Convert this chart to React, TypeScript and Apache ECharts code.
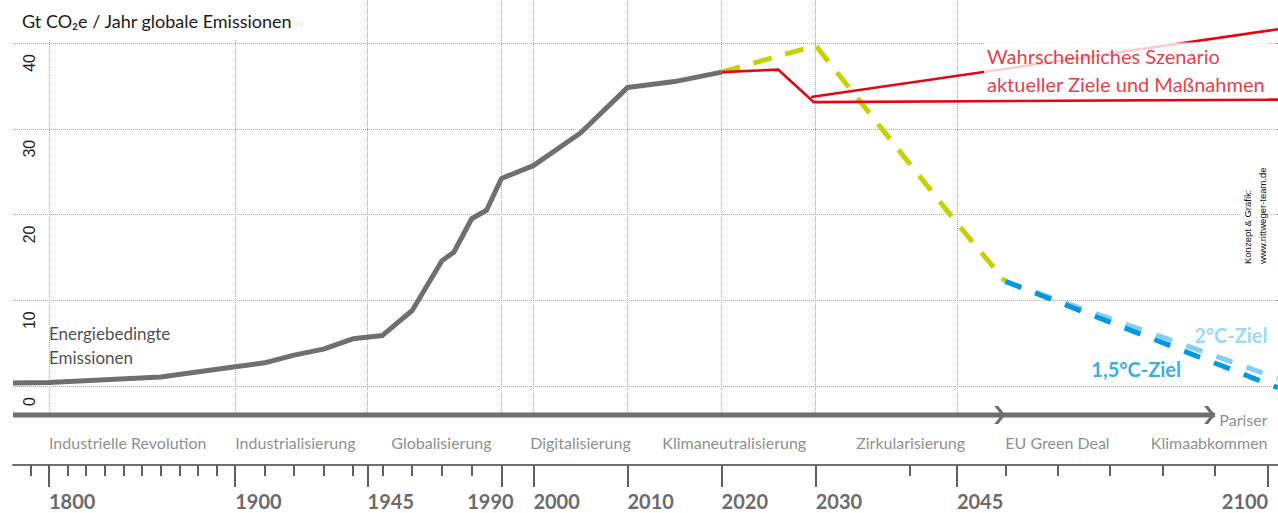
import { useEffect, useRef } from 'react';
import * as echarts from 'echarts';

// ---- timeline scale (piecewise: break years and relative width of each segment) ----
const TIMELINE_BREAK_YEARS = [1780, 1800, 1900, 1945, 1990, 2000, 2045, 2050, 2100, 2102];
const TIMELINE_SEGMENT_WEIGHTS = [36, 186.5, 132.5, 134, 32, 424, 48.5, 262.5, 10.5];

const GRID_YEARS = [1800, 1900, 1945, 1990, 2000, 2010, 2020, 2030, 2045];
const MAJOR_TICK_YEARS = [1800, 1900, 1945, 1990, 2000, 2010, 2020, 2030, 2045, 2100];
const MINOR_TICK_YEARS = [1790, 1810, 1820, 1830, 1840, 1850, 1860, 1870, 1880, 1890, 1910, 1920, 1930, 1940, 1950, 1960, 1970, 1980, 2040, 2050, 2060, 2070, 2080, 2090];
const LEFT_YEAR_LABELS = [1800, 1900, 1945, 2000, 2010, 2020, 2030, 2045];
const SHIFTED_YEAR_LABELS = [1990, 2100];

// ---- emissions (Gt CO2e / year) ----
const HIST_YEARS = [1780, 1800, 1860, 1900, 1910, 1920, 1930, 1940, 1950, 1960, 1970, 1974, 1980, 1985, 1990, 2000, 2005, 2010, 2015, 2020];
const HIST_VALUES = [0.35, 0.4, 1.05, 2.25, 2.7, 3.6, 4.3, 5.5, 5.9, 8.8, 14.6, 15.6, 19.5, 20.5, 24.2, 25.7, 29.5, 34.8, 35.5, 36.6];
const RED_YEARS = [2020, 2026, 2029.8, 2102];
const RED_VALUES = [36.6, 36.9, 33.1, 33.4];
const RED_UPPER_YEARS = [2029.5, 2102];
const RED_UPPER_VALUES = [33.7, 41.6];
const YELLOW_YEARS = [2020, 2030, 2045, 2050];
const YELLOW_VALUES = [36.6, 39.7, 19.0, 12.2];
const TWO_C_YEARS = [2050, 2102];
const TWO_C_VALUES = [12.2, 0.9];
const ONE5_YEARS = [2050, 2102];
const ONE5_VALUES = [12.2, -0.2];

const ARROW_YEARS = [1780, 2050, 2090];

const PERIODS = [
  { text: 'Industrielle Revolution', year: 1800, align: 'left', row: 0 },
  { text: 'Industrialisierung', year: 1900, align: 'left', row: 0 },
  { text: 'Globalisierung', year: 1953, align: 'left', row: 0 },
  { text: 'Digitalisierung', year: 1999, align: 'left', row: 0 },
  { text: 'Klimaneutralisierung', year: 2013.7, align: 'left', row: 0 },
  { text: 'Zirkularisierung', year: 2034.3, align: 'left', row: 0 },
  { text: 'EU Green Deal', year: 2050, align: 'left', row: 0 },
  { text: 'Klimaabkommen', year: 2100, align: 'right', row: 0 },
  { text: 'Pariser', year: 2100, align: 'right', row: 1 },
];

const PLOT_NOTES = [
  { text: 'Energiebedingte\nEmissionen', year: 1800, value: 7.5, align: 'left', vAlign: 'top', kind: 'black' },
  { text: 'Wahrscheinliches Szenario\naktueller Ziele und Maßnahmen', year: 2047.8, value: 36.8, align: 'left', vAlign: 'middle', kind: 'red' },
  { text: '2°C-Ziel', year: 2100, value: 5.95, align: 'right', vAlign: 'middle', kind: 'twoC' },
  { text: '1,5°C-Ziel', year: 2083.5, value: 2.0, align: 'right', vAlign: 'middle', kind: 'one5' },
];

// ---- styles ----
const FONT = 'Lato, "Open Sans", sans-serif';
const C_GRAY = '#6f6f6f';
const C_RED = '#e30613';
const C_YELLOW = '#c8d100';
const C_LIGHT = '#80d0f5';
const C_DARK = '#0099dd';
const C_GRID = '#a9a9a9';
const ROW_OFFSETS = [27, 4];
const YEAR_LABEL_PAD: Record<number, number> = { 1990: 22, 2100: 45 };
const NOTE_STYLES: Record<string, any> = {
  black: { color: '#1a1a1a', fontSize: 17, lineHeight: 24 },
  red: { color: C_RED, fontSize: 20, lineHeight: 28, backgroundColor: '#fff', padding: [0, 3] },
  twoC: { color: C_LIGHT, fontSize: 20, fontWeight: 'bold' },
  one5: { color: C_DARK, fontSize: 20, fontWeight: 'bold' },
};

const BREAK_POS = TIMELINE_BREAK_YEARS.map((_, i) =>
  TIMELINE_SEGMENT_WEIGHTS.slice(0, i).reduce((a, b) => a + b, 0)
);
const X_MAX = BREAK_POS[BREAK_POS.length - 1];

function P(year: number): number {
  const n = TIMELINE_BREAK_YEARS.length;
  for (let i = 0; i < n - 1; i++) {
    const y0 = TIMELINE_BREAK_YEARS[i];
    const y1 = TIMELINE_BREAK_YEARS[i + 1];
    if (year <= y1 || i === n - 2) {
      return BREAK_POS[i] + ((year - y0) / (y1 - y0)) * (BREAK_POS[i + 1] - BREAK_POS[i]);
    }
  }
  return 0;
}
function yearOf(pos: number): number {
  const n = BREAK_POS.length;
  for (let i = 0; i < n - 1; i++) {
    if (pos <= BREAK_POS[i + 1] || i === n - 2) {
      const t = (pos - BREAK_POS[i]) / (BREAK_POS[i + 1] - BREAK_POS[i]);
      return TIMELINE_BREAK_YEARS[i] + t * (TIMELINE_BREAK_YEARS[i + 1] - TIMELINE_BREAK_YEARS[i]);
    }
  }
  return 0;
}

const CHEVRON = 'path://M0,0 L4,0 L11,9 L4,18 L0,18 L7,9 Z';

function lineSeries(years: number[], values: number[], color: string, width: number, dash: any, z: number) {
  return {
    type: 'line',
    xAxisIndex: 0,
    yAxisIndex: 0,
    data: years.map((y, i) => [P(y), values[i]]),
    symbol: 'none',
    clip: false,
    silent: true,
    z,
    lineStyle: { color, width, type: dash, cap: 'butt', join: 'round' },
  };
}

export default function App() {
  const ref = useRef<HTMLDivElement>(null);
  useEffect(() => {
    if (!ref.current) return;
    const chart = echarts.init(ref.current, undefined, { renderer: 'svg' });
    const dotted = { color: C_GRID, width: 1, type: [1, 1] };
    const grids = [
      { left: 13, right: 0, top: 43, bottom: 127 },
      { left: 13, right: 0, top: 0, bottom: 98 },
      { left: 13, right: 0, top: 464, height: 1 },
      { left: 13, right: 0, top: 464, height: 1 },
    ].map((g) => ({ ...g, containLabel: false, outerBoundsMode: 'none' }));

    const option: any = {
      animation: false,
      title: {
        text: 'Gt CO₂e / Jahr globale Emissionen',
        left: 16,
        top: 0,
        padding: [12, 6, 9, 6],
        backgroundColor: '#fff',
        textStyle: { fontFamily: FONT, fontSize: 18, fontWeight: 'normal', color: '#1a1a1a' },
      },
      grid: grids,
      xAxis: [
        { type: 'value', gridIndex: 0, min: 0, max: X_MAX, show: false },
        {
          type: 'value', gridIndex: 1, min: 0, max: X_MAX,
          axisLine: { show: false },
          axisTick: { show: false, customValues: GRID_YEARS.map(P) },
          axisLabel: { show: false },
          splitLine: { show: true, lineStyle: dotted },
        },
        {
          type: 'value', gridIndex: 2, min: 0, max: X_MAX, position: 'bottom',
          axisLine: { show: true, lineStyle: { color: C_GRAY, width: 2 } },
          axisTick: { show: true, customValues: MAJOR_TICK_YEARS.map(P), length: 22, lineStyle: { color: '#606060', width: 2 } },
          axisLabel: {
            show: true,
            customValues: LEFT_YEAR_LABELS.map(P),
            formatter: (v: number) => String(Math.round(yearOf(v))),
            align: 'left',
            margin: 26,
            fontFamily: FONT,
            fontWeight: 'bold',
            fontSize: 20,
            color: '#6b6b6b',
          },
          splitLine: { show: false },
        },
        {
          type: 'value', gridIndex: 3, min: 0, max: X_MAX, position: 'bottom',
          axisLine: { show: false },
          axisTick: { show: true, customValues: MINOR_TICK_YEARS.map(P), length: 11, lineStyle: { color: '#606060', width: 2 } },
          axisLabel: {
            show: true,
            customValues: SHIFTED_YEAR_LABELS.map(P),
            formatter: (v: number) => {
              const y = Math.round(yearOf(v));
              return `{y${y}|${y}}`;
            },
            align: 'center',
            margin: 26,
            rich: Object.fromEntries(
              SHIFTED_YEAR_LABELS.map((y) => [
                'y' + y,
                { fontFamily: FONT, fontWeight: 'bold', fontSize: 20, color: '#6b6b6b', padding: [0, YEAR_LABEL_PAD[y], 0, 0] },
              ])
            ),
          },
          splitLine: { show: false },
        },
      ],
      yAxis: [
        {
          type: 'value', gridIndex: 0, min: 0, max: 40, interval: 10,
          axisLine: { show: false },
          axisTick: { show: false },
          splitLine: { show: true, lineStyle: dotted },
          axisLabel: {
            inside: true,
            rotate: 90,
            margin: 8,
            align: 'right',
            verticalAlign: 'top',
            padding: [0, 11, 0, 0],
            fontSize: 16,
            color: '#1e1e1e',
            fontFamily: '"Liberation Sans", Arial, sans-serif',
          },
        },
        { type: 'value', gridIndex: 1, min: 0, max: 1, show: false },
        { type: 'value', gridIndex: 2, min: 0, max: 1, show: false },
        { type: 'value', gridIndex: 3, min: 0, max: 1, show: false },
      ],
      series: [
        lineSeries(HIST_YEARS, HIST_VALUES, C_GRAY, 5, 'solid', 4),
        lineSeries(YELLOW_YEARS, YELLOW_VALUES, C_YELLOW, 5, [19, 14], 3),
        lineSeries(RED_UPPER_YEARS, RED_UPPER_VALUES, C_RED, 2.6, 'solid', 5),
        lineSeries(RED_YEARS, RED_VALUES, C_RED, 2.6, 'solid', 5),
        lineSeries(TWO_C_YEARS, TWO_C_VALUES, C_LIGHT, 5, [17, 15], 3),
        lineSeries(ONE5_YEARS, ONE5_VALUES, C_DARK, 5, [17, 15], 3),
        {
          type: 'line',
          xAxisIndex: 1,
          yAxisIndex: 1,
          clip: false,
          silent: true,
          z: 6,
          showSymbol: true,
          showAllSymbol: true,
          lineStyle: { color: C_GRAY, width: 5, cap: 'butt' },
          itemStyle: { color: C_GRAY },
          data: ARROW_YEARS.map((y, i) => ({
            value: [P(y), 0],
            symbol: i === 0 ? 'none' : CHEVRON,
            symbolSize: [11, 18],
            symbolOffset: [-5.5, 0],
          })),
        },
        {
          type: 'scatter',
          xAxisIndex: 1,
          yAxisIndex: 1,
          clip: false,
          silent: true,
          z: 8,
          symbolSize: 1,
          itemStyle: { color: 'transparent' },
          data: PERIODS.map((p) => ({
            value: [P(p.year), 0],
            label: {
              show: true,
              position: 'inside',
              formatter: p.text,
              align: p.align,
              verticalAlign: 'middle',
              offset: [0, ROW_OFFSETS[p.row]],
              fontFamily: FONT,
              fontSize: 16,
              color: '#6f6f6f',
            },
          })),
        },
        {
          type: 'scatter',
          xAxisIndex: 0,
          yAxisIndex: 0,
          clip: false,
          silent: true,
          z: 10,
          symbolSize: 1,
          itemStyle: { color: 'transparent' },
          data: PLOT_NOTES.map((n) => ({
            value: [P(n.year), n.value],
            label: {
              show: true,
              position: 'inside',
              formatter: n.text,
              align: n.align,
              verticalAlign: n.vAlign,
              fontFamily: FONT,
              ...NOTE_STYLES[n.kind],
            },
          })),
        },
      ],
      graphic: [
        {
          type: 'text',
          x: 1240,
          y: 266,
          rotation: Math.PI / 2,
          z: 20,
          silent: true,
          style: {
            text: 'Konzept & Grafik:\nwww.rittweger-team.de',
            fontSize: 9.5,
            fontFamily: '"Liberation Sans", Arial, sans-serif',
            fill: '#111',
            lineHeight: 15,
            align: 'left',
            verticalAlign: 'top',
            backgroundColor: '#fff',
            padding: [0, 2],
          },
        },
      ],
    };
    chart.setOption(option);
    return () => chart.dispose();
  }, []);
  return (
    <div
      ref={ref}
      style={{ position: 'fixed', left: 0, top: 0, width: 1278, height: 513, background: '#fff' }}
    />
  );
}
